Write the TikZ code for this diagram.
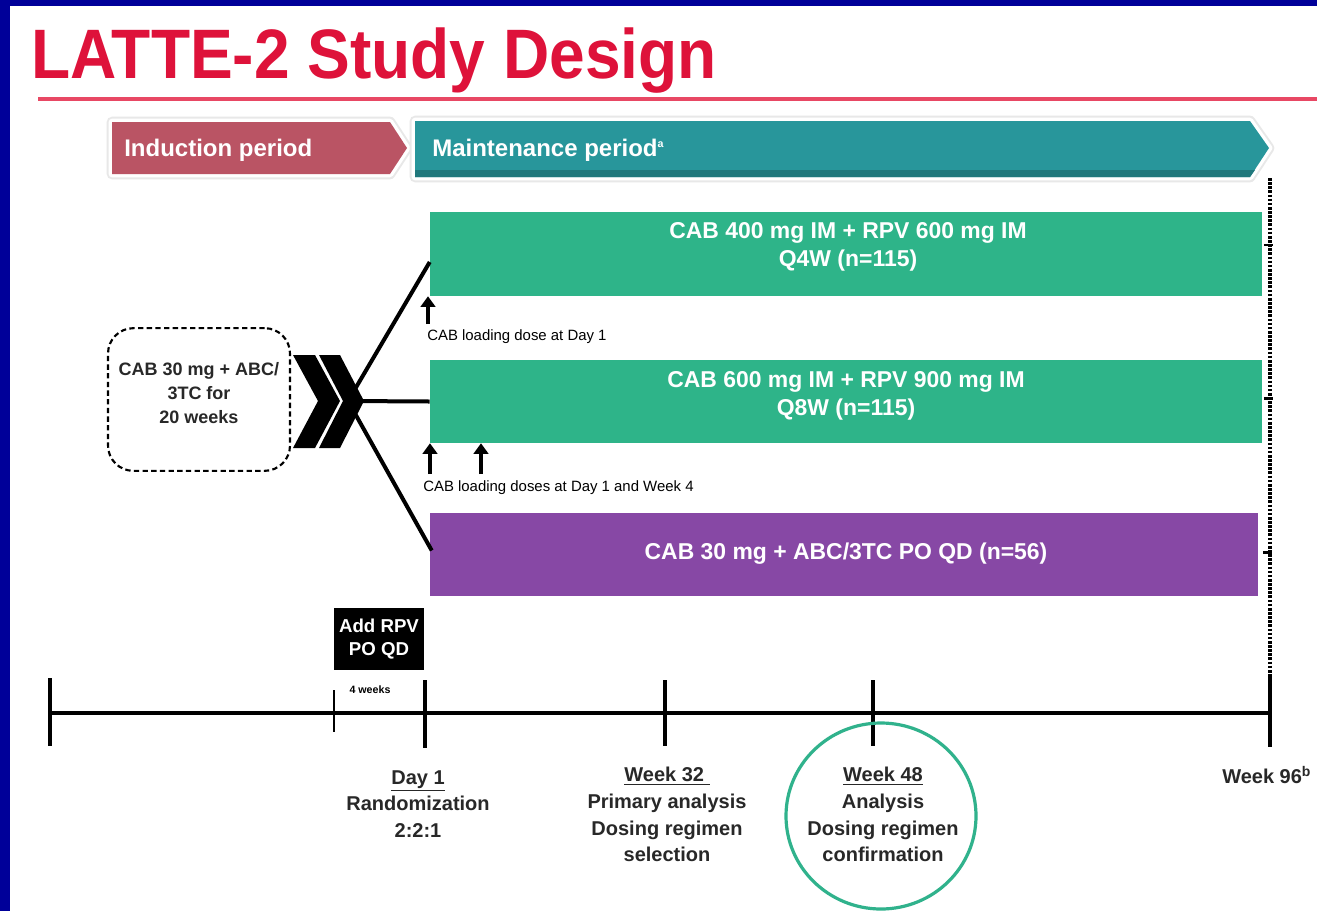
\documentclass[tikz,border=0pt]{standalone}
\usepackage{fontspec}
\usepackage{graphicx}
\setmainfont{Liberation Sans}
\usetikzlibrary{calc,arrows.meta}
\definecolor{bordblue}{RGB}{0,0,153}
\definecolor{titlered}{RGB}{222,18,58}
\definecolor{rulered}{RGB}{232,72,100}
\definecolor{indred}{RGB}{186,84,100}
\definecolor{mainteal}{RGB}{40,150,155}
\definecolor{cabgreen}{RGB}{46,180,137}
\definecolor{cabpurple}{RGB}{135,72,165}
\definecolor{circgreen}{RGB}{48,178,140}
\definecolor{darktxt}{RGB}{40,40,40}
\begin{document}
\begin{tikzpicture}[x=0.75pt,y=-0.75pt,
  barbox/.style={inner sep=0pt, minimum width=624pt, minimum height=63pt},
  bartext/.style={text=white, font=\fontsize{17.2}{21}\selectfont\bfseries, align=center, inner sep=0pt},
  phasetext/.style={text=white, font=\fontsize{18}{22}\selectfont\bfseries, inner sep=0pt, anchor=west},
  glowout/.style={draw=gray!18, line width=8pt, line join=round},
  glowin/.style={draw=white, line width=5pt, line join=round},
  branch/.style={line width=3pt},
  upar/.style={line width=2.8pt, -{Triangle[width=11pt,length=8pt]}},
  smalllbl/.style={font=\fontsize{11.2}{13}\selectfont, inner sep=0pt, anchor=base west},
  axis/.style={line width=3.6pt},
  tickmark/.style={line width=2.3pt},
  weeklbl/.style={font=\fontsize{15}{20}\selectfont\bfseries, text=darktxt, align=center, inner sep=0pt, anchor=north},
  endtick/.style={line width=2pt}
]
\useasboundingbox (0,0) rectangle (1317,911);
% background and border
\fill[bordblue] (0,0) rectangle (1317,911);
\fill[white] (10,6) rectangle (1317,911);

% title and rule
\node[anchor=base west, inner sep=0pt, text=titlered, font=\fontsize{52.5}{60}\selectfont\bfseries] (title) at (31,78) {\scalebox{0.915}[1]{LATTE-2 Study Design}};
\draw[rulered, line width=3pt] (38,99) -- (1317,99);

% phase arrows
\path[glowout] (112,122) -- (390,122) -- (407,148) -- (390,174) -- (112,174) -- cycle;
\path[glowin] (112,122) -- (390,122) -- (407,148) -- (390,174) -- (112,174) -- cycle;
\fill[indred] (112,122) -- (390,122) -- (407,148) -- (390,174) -- (112,174) -- cycle;
\path[glowout] (415,121) -- (1250,121) -- (1269,148) -- (1250,177) -- (415,177) -- cycle;
\path[glowin] (415,121) -- (1250,121) -- (1269,148) -- (1250,177) -- (415,177) -- cycle;
\fill[mainteal] (415,121) -- (1250,121) -- (1269,148) -- (1250,177) -- (415,177) -- cycle;
\fill[mainteal!80!black] (415,170) -- (1255,170) -- (1250,177) -- (415,177) -- cycle;
\node[phasetext] (ind) at (124,150) {Induction period};
\node[phasetext] (mnt) at (432,150) {Maintenance period\textsuperscript{\fontsize{8}{8}\selectfont a}};

% end dotted line
\coordinate (dtop) at (1270,178);
\coordinate (dbot) at (1270,680);
\draw[line width=2.6pt, dash pattern=on 2pt off 1.1pt] (dtop) -- (dbot);

% arms
\node[barbox, fill=cabgreen] (b1) at (846,254) {};
\node[barbox, fill=cabgreen, minimum height=62.25pt] (b2) at (846,401.5) {};
\node[barbox, fill=cabpurple, minimum width=621pt, minimum height=62.25pt] (b3) at (844,554.5) {};
\node[bartext] (b1t) at (848,247) {CAB 400 mg IM + RPV 600 mg IM\\Q4W (n=115)};
\node[bartext] (b2t) at (846,396) {CAB 600 mg IM + RPV 900 mg IM\\Q8W (n=115)};
\node[bartext] (b3t) at (846,554) {CAB 30 mg + ABC/3TC PO QD (n=56)};
\draw[endtick] ($(b1.east)+(2,-9)$) -- ++(9,0);
\draw[endtick] ($(b2.east)+(2,-3)$) -- ++(9,0);
\draw[endtick] ($(b3.east)+(5,-2)$) -- ++(9,0);

% induction box
\node[draw, dash pattern=on 4pt off 2.5pt, line width=1.6pt, rounded corners=19pt, minimum width=136.5pt, minimum height=107pt, inner sep=0pt] (ind box) at (199,399.5) {};
\node[font=\fontsize{13.5}{18}\selectfont\bfseries, text=darktxt, align=center, inner sep=0pt] (indtxt) at (199,393) {CAB 30 mg + ABC/\\3TC for\\20 weeks};

% chevrons
\fill (293,355) -- (315,355) -- (340,401) -- (315,448) -- (293,448) -- (318,401) -- cycle;
\fill (319,355) -- (340,355) -- (364,401) -- (340,448) -- (319,448) -- (343,401) -- cycle;

% branches
\coordinate (j) at (348,401);
\draw[branch] (j) -- ($(b1.west)+(0,8)$);
\draw[branch] (j) -- (b2.west);
\draw[branch] (j) -- ($(b3.west)+(2,-4)$);

% loading dose arrows
\coordinate (a1) at (428,324);
\coordinate (a2) at (430,474);
\coordinate (a3) at (481,474);
\draw[upar] (a1) -- (a1 |- b1.south);
\draw[upar] (a2) -- (a2 |- b2.south);
\draw[upar] (a3) -- (a3 |- b2.south);
\node[smalllbl] (l1) at (427,340) {CAB loading dose at Day 1};
\node[smalllbl] (l2) at (423,491) {CAB loading doses at Day 1 and Week 4};

% add RPV box
\node[fill=black, text=white, font=\fontsize{14}{17}\selectfont\bfseries, align=center, minimum width=67.5pt, minimum height=46.5pt, inner sep=0pt] (rpv) at (379,639) {Add RPV\\PO QD};

% timeline
\coordinate (t0) at (50,713);
\coordinate (tr) at (334,713);
\coordinate (t1) at (425,713);
\coordinate (t32) at (665,713);
\coordinate (t48) at (873,713);
\coordinate (t96) at (1270,713);
\draw[axis] (t0) -- (t96);
\draw[tickmark] ($(t0)+(0,-35)$) -- ($(t0)+(0,33)$);
\draw[line width=1.5pt] ($(tr)+(0,-23)$) -- ($(tr)+(0,19)$);
\draw[tickmark] ($(t1)+(0,-33)$) -- ($(t1)+(0,35)$);
\draw[tickmark] ($(t32)+(0,-33)$) -- ($(t32)+(0,33)$);
\draw[tickmark] ($(t48)+(0,-33)$) -- ($(t48)+(0,33)$);
\draw[tickmark] ($(t96)+(0,-37)$) -- ($(t96)+(0,34)$);
\node[font=\fontsize{8}{9}\selectfont\bfseries, inner sep=0pt] (fourwk) at (370,690) {4 weeks};

% week labels
\node[weeklbl] (d1) at (418,770) {\underline{Day 1}\\Randomization\\2:2:1};
\node[weeklbl] (w32) at (667,767) {\underline{Week 32\ }\\Primary analysis\\Dosing regimen\\selection};
\node[weeklbl] (w48) at (883,767) {\underline{Week 48}\\Analysis\\Dosing regimen\\confirmation};
\node[font=\fontsize{15}{20}\selectfont\bfseries, text=darktxt, inner sep=0pt, anchor=west] (w96) at (1222,775) {Week 96\textsuperscript{b}};
\draw[circgreen, line width=2.4pt] (881,816) ellipse [x radius=95, y radius=93];
\end{tikzpicture}
\end{document}
